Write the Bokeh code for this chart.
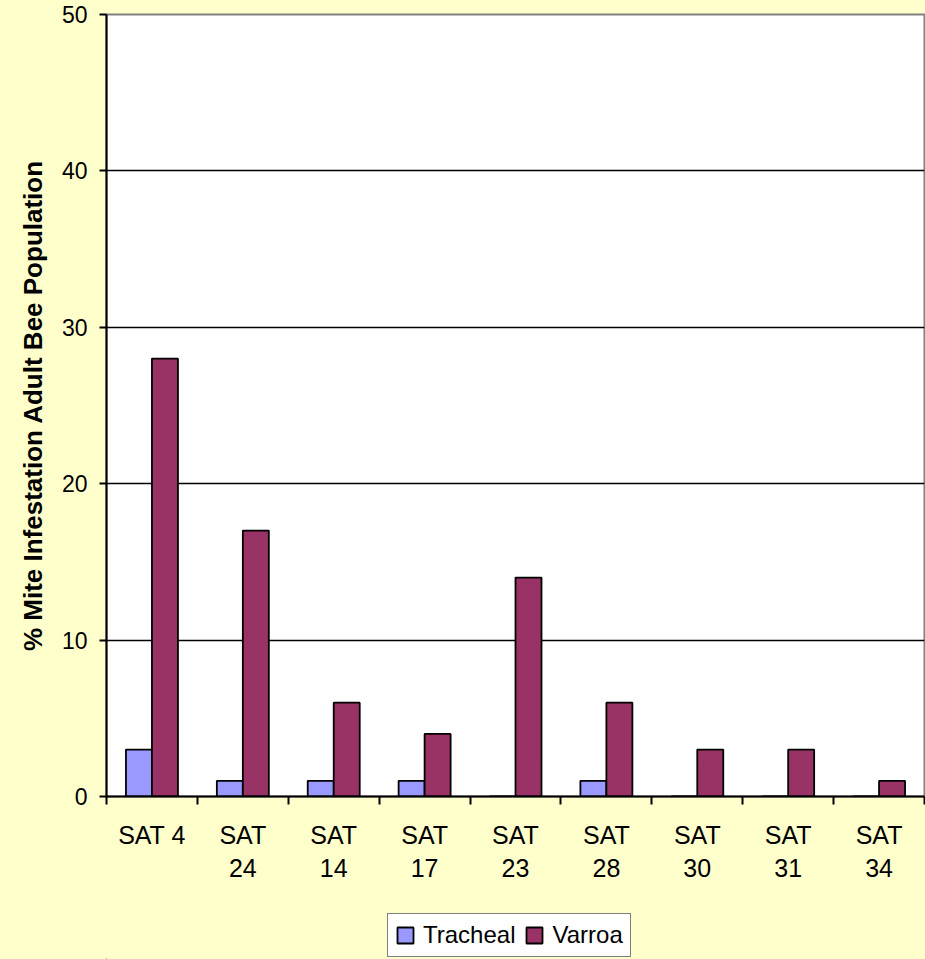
from bokeh.plotting import figure
from bokeh.layouts import column
from bokeh.models import (ColumnDataSource, FixedTicker, Legend, LegendItem,
                          Range1d)
from bokeh.transform import dodge
from bokeh.embed import file_html
from bokeh.resources import INLINE

# Mite infestation per colony (% of adult bee population)
colonies = ["SAT 4", "SAT\n24", "SAT\n14", "SAT\n17", "SAT\n23",
            "SAT\n28", "SAT\n30", "SAT\n31", "SAT\n34"]
tracheal = [3, 1, 1, 1, 0, 1, 0, 0, 0]
varroa = [28, 17, 6, 4, 14, 6, 3, 3, 1]
y_ticks = [0, 10, 20, 30, 40, 50]

FONT = "Liberation Sans"
BG = "#FFFFCC"
TR_COLOR = "#9999FF"
VA_COLOR = "#993366"

centers = [i + 0.5 for i in range(len(colonies))]
source = ColumnDataSource(dict(x=centers, tracheal=tracheal, varroa=varroa))

p = figure(width=925, height=900, output_backend="svg", toolbar_location=None,
           x_range=Range1d(0, len(colonies)), y_range=Range1d(0, 50),
           min_border_left=106, min_border_right=1, min_border_top=14,
           min_border_bottom=104)
p.background_fill_color = "white"
p.border_fill_color = BG
p.outline_line_color = "#808080"
p.outline_line_width = 2

bar_w = 0.286
p.vbar(x=dodge("x", -bar_w / 2), top="tracheal", width=bar_w, source=source,
       fill_color=TR_COLOR, line_color="black", line_width=1.8)
p.vbar(x=dodge("x", bar_w / 2), top="varroa", width=bar_w, source=source,
       fill_color=VA_COLOR, line_color="black", line_width=1.8)

# value axis
p.yaxis.ticker = FixedTicker(ticks=y_ticks)
p.yaxis.axis_label = "% Mite Infestation Adult Bee Population"
p.yaxis.axis_label_text_font = FONT
p.yaxis.axis_label_text_font_style = "bold"
p.yaxis.axis_label_text_font_size = "26px"
p.yaxis.axis_label_text_color = "black"
p.yaxis.axis_label_standoff = 11
p.yaxis.major_label_text_font = FONT
p.yaxis.major_label_text_font_size = "23px"
p.yaxis.major_label_text_color = "black"
p.yaxis.major_label_standoff = 12
p.yaxis.major_tick_out = 7
p.yaxis.major_tick_in = 0
p.yaxis.major_tick_line_width = 2
p.yaxis.minor_tick_line_color = None
p.yaxis.axis_line_width = 2
p.yaxis.axis_line_color = "black"

# category axis: labels at centres, tick marks between categories
p.xaxis.ticker = FixedTicker(ticks=centers,
                             minor_ticks=list(range(len(colonies) + 1)))
p.xaxis.major_label_overrides = {c: lab for c, lab in zip(centers, colonies)}
p.xaxis.major_label_text_font = FONT
p.xaxis.major_label_text_font_size = "25px"
p.xaxis.major_label_text_color = "black"
p.xaxis.major_label_standoff = 16
p.xaxis.major_tick_line_color = None
p.xaxis.major_tick_out = 0
p.xaxis.major_tick_in = 0
p.xaxis.minor_tick_out = 8
p.xaxis.minor_tick_in = 0
p.xaxis.minor_tick_line_width = 2
p.xaxis.minor_tick_line_color = "black"
p.xaxis.axis_line_width = 2
p.xaxis.axis_line_color = "black"

p.xgrid.grid_line_color = None
p.ygrid.ticker = FixedTicker(ticks=[10, 20, 30, 40])
p.ygrid.grid_line_color = "black"
p.ygrid.grid_line_width = 1.5

# legend strip underneath the chart (its frame lines up with the chart's)
leg = figure(width=925, height=59, output_backend="svg", toolbar_location=None,
             x_axis_location=None, y_axis_location=None,
             x_range=Range1d(0, 1), y_range=Range1d(0, 1),
             min_border_left=106, min_border_right=1, min_border_top=0,
             min_border_bottom=0)
leg.background_fill_color = BG
leg.border_fill_color = BG
leg.outline_line_color = None
leg.grid.grid_line_color = None
# one key entry per series, kept well outside the visible range
keys = ColumnDataSource(dict(x=[-10], top=[-10], bottom=[-11]))
k_tr = leg.vbar(x="x", top="top", bottom="bottom", width=0.1, source=keys,
                fill_color=TR_COLOR, line_color="black", line_width=1.8)
k_va = leg.vbar(x="x", top="top", bottom="bottom", width=0.1, source=keys,
                fill_color=VA_COLOR, line_color="black", line_width=1.8)

legend = Legend(items=[LegendItem(label="Tracheal", renderers=[k_tr]),
                       LegendItem(label="Varroa", renderers=[k_va])],
                orientation="horizontal", location=(281, 2))
legend.label_text_font = FONT
legend.label_text_font_size = "24px"
legend.label_text_color = "black"
legend.glyph_width = 20
legend.glyph_height = 20
legend.label_standoff = 8
legend.spacing = 9
legend.padding = 7
legend.margin = 0
legend.border_line_color = "black"
legend.border_line_width = 1.5
legend.background_fill_color = "white"
legend.background_fill_alpha = 1
leg.add_layout(legend, "center")

layout = column(p, leg, spacing=0, styles={"background-color": BG})
open("out.html", "w").write(file_html(layout, INLINE))
